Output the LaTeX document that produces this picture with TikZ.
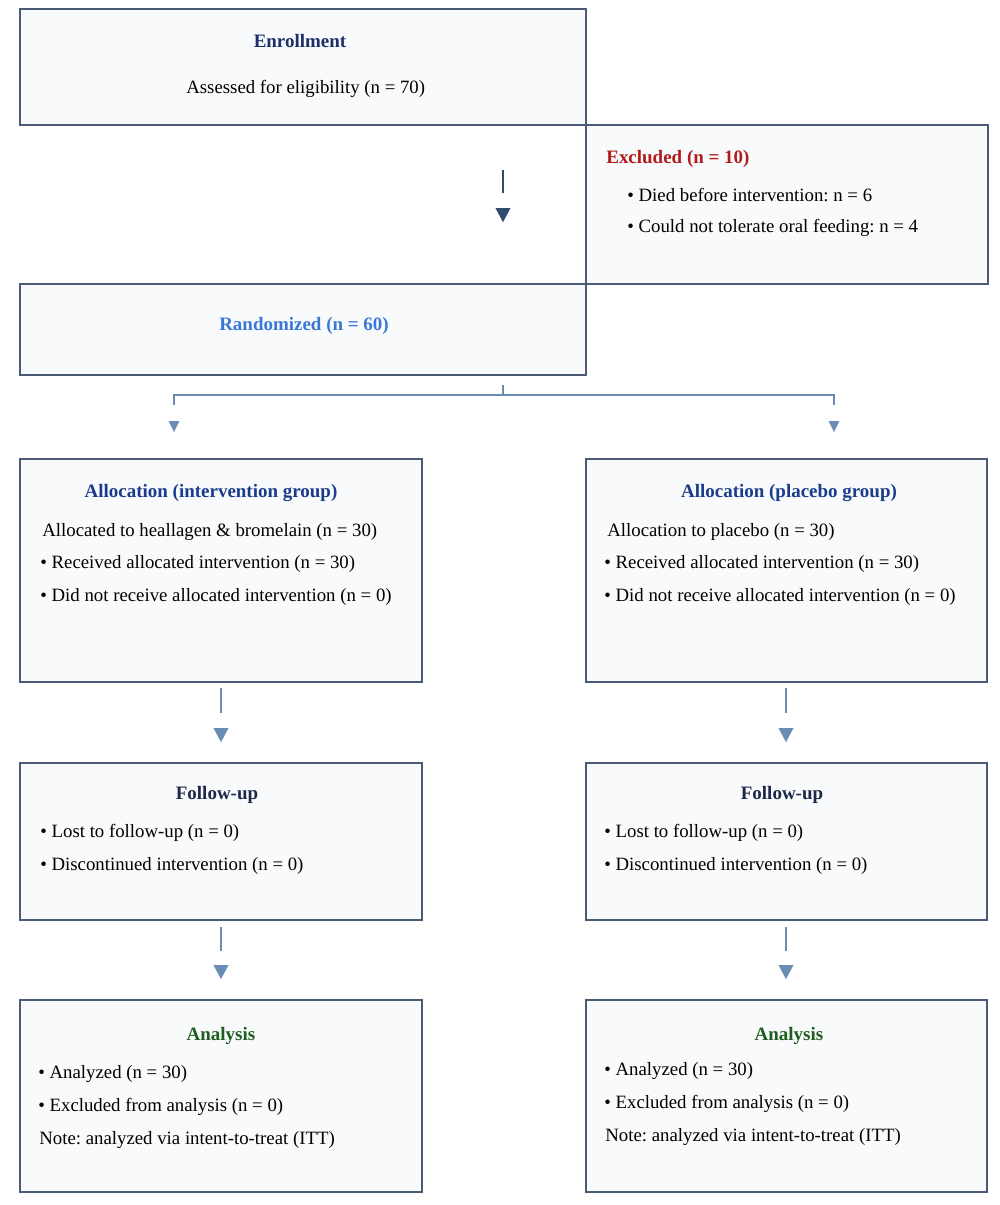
\documentclass[tikz,border=0pt]{standalone}
\usepackage{fontspec}
\setmainfont{Liberation Serif}
\frenchspacing
\usepackage{xcolor}
\definecolor{boxline}{HTML}{4A5B78}
\definecolor{boxfill}{HTML}{F9FAFC}
\definecolor{arrowcol}{HTML}{6A8DB3}
\definecolor{topcol}{HTML}{2E4A70}
\definecolor{enrcol}{HTML}{1F2F6B}
\definecolor{exccol}{HTML}{B01C1C}
\definecolor{randcol}{HTML}{3A78D6}
\definecolor{alloccol}{HTML}{1A3C8C}
\definecolor{fupcol}{HTML}{1C2848}
\definecolor{anacol}{HTML}{1E5E1E}
\usepackage{tikz}
\usetikzlibrary{arrows.meta}
\usetikzlibrary{positioning}
\tikzstyle{block} = [rectangle, draw=boxline, fill=boxfill, line width=0.9pt, inner sep=0pt]
\tikzstyle{txt} = [anchor=west, inner sep=0pt, yshift=-0.04cm, font=\fontsize{10.7}{12}\selectfont]
\tikzstyle{head} = [inner sep=0pt, yshift=-0.03cm, font=\fontsize{10.8}{12}\selectfont\bfseries]
\tikzstyle{line} = [draw=arrowcol, line width=0.8pt]
\tikzstyle{tip} = [draw=arrowcol, line width=0.1pt, -{Triangle[width=8.4pt,length=7.9pt]}]
\tikzstyle{smalltip} = [draw=arrowcol, line width=0.1pt, -{Triangle[width=6pt,length=6.2pt]}]

\begin{document}
\begin{tikzpicture}[x=0.02cm,y=-0.02cm]
    \useasboundingbox (0,0) rectangle (1000,1205);
    % Place boxes
    \node [block, minimum width=11.32cm, minimum height=2.32cm] (enr) at (303,67) {};
    \node [block, minimum width=8.04cm, minimum height=3.18cm] (exc) at (787,204.5) {};
    \node [block, minimum width=11.32cm, minimum height=1.82cm] (rand) at (303,329.5) {};
    \node [block, minimum width=8.04cm, minimum height=4.46cm] (allocl) at (221,570.5) {};
    \node [block, minimum width=8.02cm, minimum height=4.46cm] (allocr) at (786.5,570.5) {};
    \node [block, minimum width=8.04cm, minimum height=3.14cm] (fupl) at (221,841.5) {};
    \node [block, minimum width=8.02cm, minimum height=3.14cm] (fupr) at (786.5,841.5) {};
    \node [block, minimum width=8.04cm, minimum height=3.84cm] (anal) at (221,1096) {};
    \node [block, minimum width=8.02cm, minimum height=3.84cm] (anar) at (786.5,1096) {};

    % Texts
    \node [head, text=enrcol] (enrh) at (300,40) {Enrollment};
    \node [txt] (enrt) at (186,87) {Assessed for eligibility (n = 70)};

    \node [head, text=exccol, anchor=west] (exch) at (606,157) {Excluded (n = 10)};
    \node [txt] (exc1) at (627,193) {\textbullet\ Died before intervention: n = 6};
    \node [txt] (exc2) at (627,226) {\textbullet\ Could not tolerate oral feeding: n = 4};

    \node [head, text=randcol] (randh) at (304,324) {Randomized (n = 60)};

    \node [head, text=alloccol] (allolh) at (211,491) {Allocation (intervention group)};
    \node [txt] (allol0) at (42,530) {Allocated to heallagen \& bromelain (n = 30)};
    \node [txt] (allol1) at (40,562) {\textbullet\ Received allocated intervention (n = 30)};
    \node [txt] (allol2) at (40,595) {\textbullet\ Did not receive allocated intervention (n = 0)};

    \node [head, text=alloccol] (allorh) at (789,491) {Allocation (placebo group)};
    \node [txt] (allor0) at (607,530) {Allocation to placebo (n = 30)};
    \node [txt] (allor1) at (604,562) {\textbullet\ Received allocated intervention (n = 30)};
    \node [txt] (allor2) at (604,595) {\textbullet\ Did not receive allocated intervention (n = 0)};

    \node [head, text=fupcol] (fuplh) at (217,793) {Follow-up};
    \node [txt] (fupl1) at (40,831) {\textbullet\ Lost to follow-up (n = 0)};
    \node [txt] (fupl2) at (40,864) {\textbullet\ Discontinued intervention (n = 0)};

    \node [head, text=fupcol] (fuprh) at (782,793) {Follow-up};
    \node [txt] (fupr1) at (604,831) {\textbullet\ Lost to follow-up (n = 0)};
    \node [txt] (fupr2) at (604,864) {\textbullet\ Discontinued intervention (n = 0)};

    \node [head, text=anacol] (analh) at (221,1034) {Analysis};
    \node [txt] (anal1) at (38,1072) {\textbullet\ Analyzed (n = 30)};
    \node [txt] (anal2) at (38,1105) {\textbullet\ Excluded from analysis (n = 0)};
    \node [txt] (anal3) at (39,1138) {Note: analyzed via intent-to-treat (ITT)};

    \node [head, text=anacol] (anarh) at (789,1034) {Analysis};
    \node [txt] (anar1) at (604,1069) {\textbullet\ Analyzed (n = 30)};
    \node [txt] (anar2) at (604,1102) {\textbullet\ Excluded from analysis (n = 0)};
    \node [txt] (anar3) at (605,1135) {Note: analyzed via intent-to-treat (ITT)};

    % Connector points
    \coordinate (t1) at (503,170);
    \coordinate (t2) at (503,193);
    \coordinate (t3) at (503,208);
    \coordinate (t4) at (503,222);
    \coordinate (s0) at (503,385);
    \coordinate (s1) at (503,395);
    \coordinate (sl) at (174,405);
    \coordinate (sr) at (834,405);
    \coordinate (slt) at (174,421);
    \coordinate (slb) at (174,432);
    \coordinate (srt) at (834,421);
    \coordinate (srb) at (834,432);

    % Draw edges
    \path [line, draw=topcol] (t1) -- (t2);
    \path [tip, draw=topcol] (t3) -- (t4);
    \path [line] (s0) -- (s1) -| (sl);
    \path [line] (s1) -| (sr);
    \path [smalltip] (slt) -- (slb);
    \path [smalltip] (srt) -- (srb);

    \foreach \col/\x in {l/221,r/786} {
        \coordinate (p\col1) at (\x,688);
        \coordinate (p\col2) at (\x,713);
        \coordinate (p\col3) at (\x,728);
        \coordinate (p\col4) at (\x,742);
        \coordinate (q\col1) at (\x,927);
        \coordinate (q\col2) at (\x,951);
        \coordinate (q\col3) at (\x,965);
        \coordinate (q\col4) at (\x,979);
        \path [line] (p\col1) -- (p\col2);
        \path [tip] (p\col3) -- (p\col4);
        \path [line] (q\col1) -- (q\col2);
        \path [tip] (q\col3) -- (q\col4);
    }
\end{tikzpicture}
\end{document}
